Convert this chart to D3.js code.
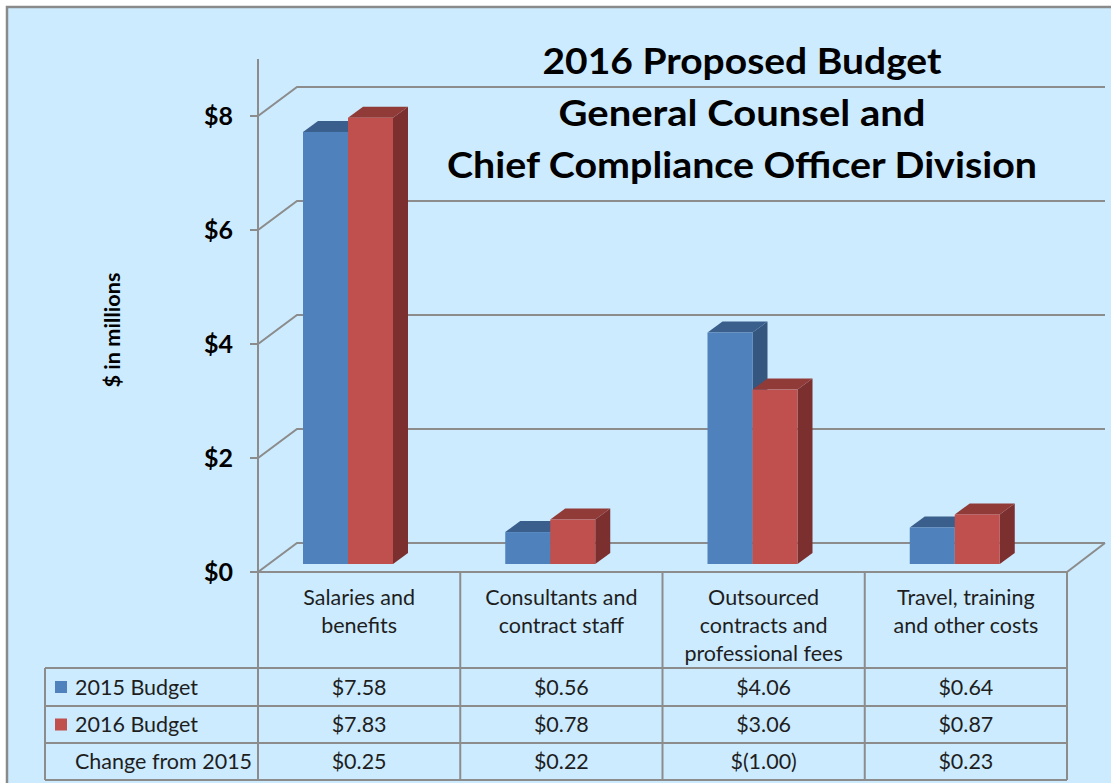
<!DOCTYPE html>
<html><head><meta charset="utf-8">
<script src="https://cdn.jsdelivr.net/npm/d3@7"></script>
<style>body{margin:0;background:#fff} svg{display:block}</style>
</head><body><svg id="c" width="1111" height="783"></svg>
<script>
// ---- data ----
const categories = ["Salaries and benefits","Consultants and contract staff","Outsourced contracts and professional fees","Travel, training and other costs"];
const categoryLines = [["Salaries and","benefits"],["Consultants and","contract staff"],["Outsourced","contracts and","professional fees"],["Travel, training","and other costs"]];
const seriesNames = ["2015 Budget","2016 Budget"];
const budget2015 = [7.58,0.56,4.06,0.64];
const budget2016 = [7.83,0.78,3.06,0.87];
const changeFrom2015 = [0.25,0.22,-1.00,0.23];
const changeLabel = "Change from 2015";
const yTicks = [0,2,4,6,8];
const titleLines = ["2016 Proposed Budget","General Counsel and","Chief Compliance Officer Division"];
const yAxisTitle = "$ in millions";

// ---- styles ----
const FONT = "Lato, 'Open Sans', sans-serif";
const BG = "#CCEBFE";
const GRID = "#8C8C8C";
const colors = {
  "2015 Budget": {front:"#4F81BD", top:"#3B5F8C", side:"#34567F"},
  "2016 Budget": {front:"#C0504D", top:"#913B39", side:"#7B2F2E"}
};
const titleWidths = [399,367,590];

const svg = d3.select("#c");
svg.append("rect").attr("x",7).attr("y",7).attr("width",1140).attr("height",800)
  .attr("fill",BG).attr("stroke","#8A8A8A").attr("stroke-width",2.5);

// scales
const x = d3.scaleBand().domain(categories).range([258,1067]);
const xInner = d3.scaleBand().domain(seriesNames).range([45,135]);
const y = d3.scaleLinear().domain([0,8]).range([572,116]);
const WALL = {dx:39, dy:29};
const BAR = {lift:8, dx:15, dy:11};
const wallRight = 1105;

const g = svg.append("g");
yTicks.forEach(t=>{
  const yy = y(t);
  g.append("path").attr("d",`M250,${yy}H258L${258+WALL.dx},${yy-WALL.dy}H${wallRight}`)
    .attr("fill","none").attr("stroke",GRID).attr("stroke-width",2);
});
g.append("path").attr("d",`M250,${y(0)}H1067L${wallRight},${y(0)-WALL.dy}`)
  .attr("fill","none").attr("stroke",GRID).attr("stroke-width",2);
g.append("line").attr("x1",258).attr("x2",258).attr("y1",y(0)).attr("y2",y(9))
  .attr("stroke",GRID).attr("stroke-width",2);

g.selectAll(".tl").data(yTicks).join("text")
  .attr("x",233).attr("y",d=>y(d)).attr("dy","0.36em").attr("text-anchor","end")
  .attr("font-family",FONT).attr("font-weight","bold").attr("font-size",25).attr("fill","#000")
  .text(d=>"$"+d);

svg.append("text").attr("transform","translate(120,330) rotate(-90)")
  .attr("text-anchor","middle").attr("font-family",FONT).attr("font-weight","bold")
  .attr("font-size",20).attr("fill","#000")
  .attr("textLength",115).attr("lengthAdjust","spacingAndGlyphs").text(yAxisTitle);

// bars
const seriesData = [budget2015,budget2016];
const barsG = svg.append("g");
categories.forEach((c,i)=>{
  seriesNames.forEach((s,j)=>{
    const v = seriesData[j][i];
    const x0 = x(c)+xInner(s), x1 = x0+xInner.bandwidth();
    const yb = y(0)-BAR.lift, yt = y(v)-BAR.lift;
    const col = colors[s];
    const bg = barsG.append("g");
    bg.append("path").attr("d",`M${x1},${yt}L${x1+BAR.dx},${yt-BAR.dy}V${yb-BAR.dy}L${x1},${yb}Z`).attr("fill",col.side);
    bg.append("path").attr("d",`M${x0},${yt}H${x1}L${x1+BAR.dx},${yt-BAR.dy}H${x0+BAR.dx}Z`).attr("fill",col.top);
    bg.append("rect").attr("x",x0).attr("y",yt).attr("width",x1-x0).attr("height",yb-yt).attr("fill",col.front);
  });
});

// title
svg.append("g").selectAll("text").data(titleLines).join("text")
  .attr("x",742).attr("y",(d,i)=>74+i*52).attr("text-anchor","middle")
  .attr("font-family",FONT).attr("font-weight","bold").attr("font-size",37).attr("fill","#000")
  .attr("textLength",(d,i)=>titleWidths[i]).attr("lengthAdjust","spacingAndGlyphs")
  .text(d=>d);

// data table
const tG = svg.append("g");
const rowY = [668,706,743,780];
const colX = [258, ...categories.map(c=>x(c)+x.bandwidth())];
colX.forEach(cx=>tG.append("line").attr("x1",cx).attr("x2",cx).attr("y1",y(0)).attr("y2",rowY[3]).attr("stroke",GRID).attr("stroke-width",2));
rowY.forEach(ry=>tG.append("line").attr("x1",45).attr("x2",1067).attr("y1",ry).attr("y2",ry).attr("stroke",GRID).attr("stroke-width",2));
tG.append("line").attr("x1",45).attr("x2",45).attr("y1",rowY[0]).attr("y2",rowY[3]).attr("stroke",GRID).attr("stroke-width",2);

const TXT = "#1E1E1E";
const TFS = 21.5;
categories.forEach((c,i)=>{
  const cx = x(c)+x.bandwidth()/2;
  categoryLines[i].forEach((ln,k)=>{
    tG.append("text").attr("x",cx).attr("y",605+k*28).attr("text-anchor","middle")
      .attr("font-family",FONT).attr("font-size",TFS).attr("fill",TXT).text(ln);
  });
});
const fmt = v => v<0 ? "$("+d3.format(".2f")(-v)+")" : "$"+d3.format(".2f")(v);
const rows = [budget2015,budget2016,changeFrom2015];
const rowLabels = [...seriesNames, changeLabel];
rows.forEach((arr,r)=>{
  const cy = (rowY[r]+rowY[r+1])/2;
  if(r<2){
    tG.append("rect").attr("x",55).attr("y",cy-6).attr("width",12).attr("height",12).attr("fill",colors[seriesNames[r]].front);
  }
  tG.append("text").attr("x",75).attr("y",cy).attr("dy","0.35em").attr("font-family",FONT).attr("font-size",TFS).attr("fill",TXT).text(rowLabels[r]);
  arr.forEach((v,i)=>{
    tG.append("text").attr("x",x(categories[i])+x.bandwidth()/2).attr("y",cy).attr("dy","0.35em")
      .attr("text-anchor","middle").attr("font-family",FONT).attr("font-size",TFS).attr("fill",TXT).text(fmt(v));
  });
});
</script></body></html>
